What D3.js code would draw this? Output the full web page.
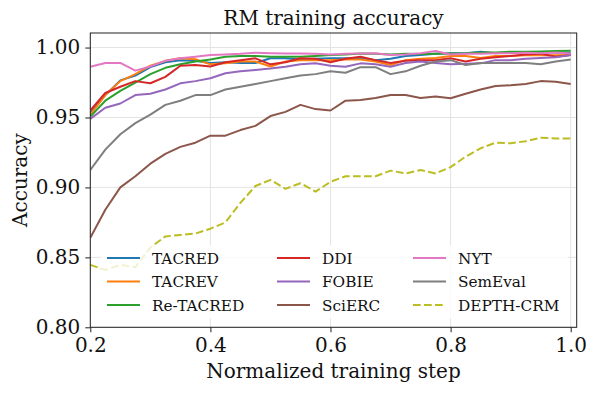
<!DOCTYPE html>
<html>
<head>
<meta charset="utf-8">
<script src="https://cdn.jsdelivr.net/npm/d3@7"></script>
<style>
  body { margin: 0; background: #fff; }
  svg { display: block; font-family: "DejaVu Serif", serif; }
</style>
</head>
<body>
<div id="chart"></div>
<script>
// normalized training step (shared x for every run)
let steps = [0.2, 0.225, 0.25, 0.275, 0.3, 0.325, 0.35, 0.375, 0.4, 0.425, 0.45,
  0.475, 0.5, 0.525, 0.55, 0.575, 0.6, 0.625, 0.65, 0.675, 0.7, 0.725, 0.75,
  0.775, 0.8, 0.825, 0.85, 0.875, 0.9, 0.925, 0.95, 0.975, 1.0];

let tacred = [0.953, 0.966, 0.9765, 0.980, 0.986, 0.9895, 0.991, 0.9905, 0.989, 0.9895, 0.989,
  0.989, 0.9923, 0.9923, 0.9915, 0.992, 0.9923, 0.9923, 0.9925, 0.991, 0.992, 0.994, 0.9946,
  0.9955, 0.996, 0.996, 0.997, 0.996, 0.9965, 0.996, 0.9965, 0.9965, 0.9963];
let tacrev = [0.952, 0.966, 0.976, 0.981, 0.987, 0.9905, 0.9923, 0.9916, 0.988, 0.9887, 0.990,
  0.990, 0.9865, 0.990, 0.991, 0.991, 0.991, 0.9915, 0.9915, 0.990, 0.9875, 0.991, 0.992,
  0.9925, 0.994, 0.994, 0.9925, 0.994, 0.994, 0.9945, 0.9945, 0.9945, 0.9946];
let retacred = [0.9506, 0.962, 0.969, 0.975, 0.981, 0.9855, 0.988, 0.990, 0.9915, 0.9934, 0.994,
  0.994, 0.9934, 0.9934, 0.9934, 0.994, 0.9946, 0.995, 0.9958, 0.9955, 0.995, 0.9955, 0.9953,
  0.9955, 0.9958, 0.996, 0.9965, 0.9965, 0.997, 0.997, 0.9972, 0.9975, 0.9977];
let ddi = [0.955, 0.9675, 0.972, 0.976, 0.9745, 0.979, 0.987, 0.9875, 0.9865, 0.9895, 0.991,
  0.9923, 0.988, 0.9895, 0.9923, 0.992, 0.9895, 0.992, 0.9934, 0.991, 0.989, 0.9905, 0.991,
  0.991, 0.9923, 0.990, 0.992, 0.993, 0.994, 0.995, 0.9955, 0.9935, 0.9946];
let fobie = [0.949, 0.957, 0.960, 0.966, 0.967, 0.970, 0.9744, 0.976, 0.978, 0.9816, 0.983,
  0.984, 0.985, 0.9863, 0.988, 0.9887, 0.987, 0.9863, 0.9887, 0.988, 0.9863, 0.989, 0.990,
  0.989, 0.988, 0.9885, 0.9887, 0.991, 0.991, 0.992, 0.9925, 0.993, 0.9946];
let scierc = [0.864, 0.884, 0.900, 0.908, 0.917, 0.924, 0.929, 0.932, 0.937, 0.937, 0.941,
  0.944, 0.951, 0.954, 0.959, 0.956, 0.955, 0.962, 0.9625, 0.964, 0.966, 0.966, 0.964,
  0.965, 0.9637, 0.967, 0.970, 0.9725, 0.973, 0.974, 0.976, 0.9755, 0.974];
let nyt = [0.9863, 0.989, 0.989, 0.9835, 0.9865, 0.9905, 0.9923, 0.9934, 0.9946, 0.995, 0.9955,
  0.9963, 0.996, 0.9958, 0.9958, 0.9955, 0.995, 0.9955, 0.9958, 0.996, 0.9946, 0.995, 0.996,
  0.9975, 0.995, 0.9955, 0.9955, 0.996, 0.996, 0.9963, 0.996, 0.9965, 0.9958];
let semeval = [0.9125, 0.927, 0.938, 0.946, 0.952, 0.959, 0.962, 0.966, 0.966, 0.970, 0.972,
  0.974, 0.976, 0.978, 0.980, 0.981, 0.983, 0.982, 0.986, 0.986, 0.981, 0.983, 0.987,
  0.990, 0.991, 0.9875, 0.989, 0.989, 0.989, 0.989, 0.988, 0.990, 0.9915];
let depthCrm = [0.8446, 0.841, 0.8446, 0.843, 0.857, 0.865, 0.866, 0.867, 0.8705, 0.875, 0.889,
  0.901, 0.9054, 0.899, 0.903, 0.897, 0.904, 0.908, 0.908, 0.908, 0.912, 0.910, 0.9125,
  0.910, 0.9145, 0.922, 0.928, 0.932, 0.9316, 0.933, 0.9355, 0.935, 0.935];

let names = ["TACRED", "TACREV", "Re-TACRED", "DDI", "FOBIE", "SciERC", "NYT", "SemEval", "DEPTH-CRM"];
let values = [tacred, tacrev, retacred, ddi, fobie, scierc, nyt, semeval, depthCrm];
let colors = ["#1f77b4", "#ff7f0e", "#2ca02c", "#d62728", "#9467bd", "#8c564b", "#e377c2", "#7f7f7f", "#bcbd22"];

let xTicks = [0.2, 0.4, 0.6, 0.8, 1.0];
let yTicks = [0.80, 0.85, 0.90, 0.95, 1.00];

let width = 597, height = 393;
let plotLeft = 90.3, plotRight = 576.7, plotTop = 33, plotBottom = 327.3;

let svg = d3.select("#chart").append("svg")
  .attr("width", width)
  .attr("height", height);

let x = d3.scaleLinear().domain([0.2, 1.01]).range([plotLeft, plotRight]);
let y = d3.scaleLinear().domain([0.80, 1.0104]).range([plotBottom, plotTop]);

// grid
svg.append("g")
  .selectAll("line")
  .data(xTicks)
  .enter()
  .append("line")
  .attr("x1", d => x(d)).attr("x2", d => x(d))
  .attr("y1", plotTop).attr("y2", plotBottom)
  .attr("stroke", "#e3e3e3").attr("stroke-width", 1);
svg.append("g")
  .selectAll("line")
  .data(yTicks)
  .enter()
  .append("line")
  .attr("x1", plotLeft).attr("x2", plotRight)
  .attr("y1", d => y(d)).attr("y2", d => y(d))
  .attr("stroke", "#e3e3e3").attr("stroke-width", 1);

svg.append("clipPath").attr("id", "plot")
  .append("rect")
  .attr("x", plotLeft).attr("y", plotTop)
  .attr("width", plotRight - plotLeft).attr("height", plotBottom - plotTop);

let line = d3.line()
  .x((d, i) => x(steps[i]))
  .y(d => y(d));

svg.append("g")
  .attr("clip-path", "url(#plot)")
  .selectAll("path")
  .data(values)
  .enter()
  .append("path")
  .attr("d", d => line(d))
  .attr("fill", "none")
  .attr("stroke", (d, i) => colors[i])
  .attr("stroke-width", 2)
  .attr("stroke-linejoin", "round")
  .attr("stroke-dasharray", (d, i) => names[i] === "DEPTH-CRM" ? "7.7,3.3" : null);

// axes
let xAxis = svg.append("g")
  .attr("transform", `translate(0,${plotBottom})`)
  .call(d3.axisBottom(x).tickValues(xTicks).tickFormat(d3.format(".1f")).tickSize(5).tickPadding(6));
let yAxis = svg.append("g")
  .attr("transform", `translate(${plotLeft},0)`)
  .call(d3.axisLeft(y).tickValues(yTicks).tickFormat(d3.format(".2f")).tickSize(5).tickPadding(5));

[xAxis, yAxis].forEach(a => {
  a.select(".domain").remove();
  a.selectAll("line").attr("stroke", "#222").attr("stroke-width", 1);
  a.selectAll("text")
    .attr("font-family", "DejaVu Serif")
    .attr("font-size", 20)
    .attr("fill", "#111");
});

// frame
svg.append("rect")
  .attr("x", plotLeft).attr("y", plotTop)
  .attr("width", plotRight - plotLeft).attr("height", plotBottom - plotTop)
  .attr("fill", "none").attr("stroke", "#222").attr("stroke-width", 1);

// legend
let legend = svg.append("g");
legend.append("rect")
  .attr("x", 101).attr("y", 245)
  .attr("width", 467).attr("height", 74)
  .attr("fill", "#fff").attr("fill-opacity", 0.8);

let colX = [107, 277, 413];
let rowY = [258, 281.5, 305];
let item = legend.selectAll("g")
  .data(names)
  .enter()
  .append("g")
  .attr("transform", (d, i) => `translate(${colX[Math.floor(i / 3)]},${rowY[i % 3]})`);
item.append("line")
  .attr("x1", 0).attr("x2", 33)
  .attr("stroke", (d, i) => colors[i])
  .attr("stroke-width", 2)
  .attr("stroke-dasharray", d => d === "DEPTH-CRM" ? "7.7,3.3" : null);
item.append("text")
  .attr("x", 45).attr("y", 5.5)
  .attr("font-size", 15.3)
  .attr("fill", "#111")
  .text(d => d);

// labels
svg.append("text")
  .attr("x", (plotLeft + plotRight) / 2).attr("y", 25)
  .attr("text-anchor", "middle")
  .attr("font-size", 20)
  .attr("fill", "#111")
  .text("RM training accuracy");
svg.append("text")
  .attr("x", (plotLeft + plotRight) / 2).attr("y", 378)
  .attr("text-anchor", "middle")
  .attr("font-size", 20)
  .attr("fill", "#111")
  .text("Normalized training step");
svg.append("text")
  .attr("transform", `translate(27,${(plotTop + plotBottom) / 2}) rotate(-90)`)
  .attr("text-anchor", "middle")
  .attr("font-size", 20)
  .attr("fill", "#111")
  .text("Accuracy");
</script>
</body>
</html>
